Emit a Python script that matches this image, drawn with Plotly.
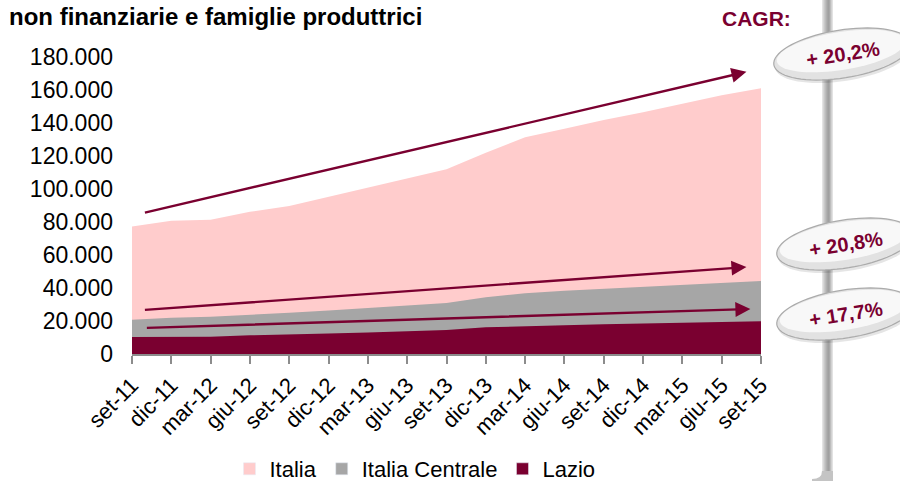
import math
import plotly.graph_objects as go

# Quarterly periods, Sep 2011 - Sep 2015
periods = ["set-11", "dic-11", "mar-12", "giu-12", "set-12", "dic-12", "mar-13",
           "giu-13", "set-13", "dic-13", "mar-14", "giu-14", "set-14", "dic-14",
           "mar-15", "giu-15", "set-15"]

italia = [77200, 80800, 81400, 86200, 89700, 95300, 100800, 106700, 111900,
          122000, 131300, 136500, 141800, 146500, 151500, 156800, 161000]
italia_centrale = [20800, 22000, 22600, 24000, 25000, 26300, 27900, 29500, 30900,
                   34400, 36800, 38400, 39600, 40800, 41800, 42800, 44300]
lazio = [10300, 10500, 10500, 11300, 11700, 12500, 13100, 13900, 14500,
         16200, 17000, 17400, 18000, 18400, 18800, 19200, 19800]

cagr_labels = ["+ 20,2%", "+ 20,8%", "+ 17,7%"]

PINK = "#FFCCCC"
GREY = "#A6A6A6"
MAROON = "#7A0030"
FONT = "Liberation Sans, Arial, sans-serif"

W, H = 900, 481
ML, MR, MT, MB = 132, 139, 57, 127
PW, PH = W - ML - MR, H - MT - MB


def px(x):
    return (x - ML) / PW


def py(y):
    return (H - MB - y) / PH


fig = go.Figure()

series = [("Italia", italia, PINK),
          ("Italia Centrale", italia_centrale, GREY),
          ("Lazio", lazio, MAROON)]

for name, vals, col in series:
    fig.add_trace(go.Scatter(x=periods, y=vals, mode="lines", fill="tozeroy",
                             fillcolor=col, line=dict(width=0, color=col),
                             name=name, showlegend=False, hoverinfo="skip"))
# square legend keys
for name, vals, col in series:
    fig.add_trace(go.Bar(x=[None], y=[None], name=name, marker_color=col,
                         showlegend=True))

shapes = []
# vertical decorative bar on the right
bar_cols = ["#e4e4e4", "#d6d6d6", "#c8c8c8", "#bcbcbc", "#b0b0b0", "#a6a6a6",
            "#a0a0a0", "#a8a8a8", "#bdbdbd", "#d2d2d2", "#e2e2e2"]
for i, c in enumerate(bar_cols):
    shapes.append(dict(type="rect", xref="paper", yref="paper", layer="above",
                       x0=px(822 + i), x1=px(823 + i), y0=py(472), y1=py(0),
                       fillcolor=c, line=dict(width=0)))
shapes.append(dict(type="path", xref="paper", yref="paper", layer="above",
                   path=(f"M{px(822)},{py(471)} Q{px(822)},{py(479)} {px(812)},{py(479)} "
                         f"L{px(812)},{py(481)} L{px(833)},{py(481)} L{px(833)},{py(471)} Z"),
                   fillcolor="#c4c4c4", line=dict(width=0)))


def ellipse_path(cx, cy, a, b, ang, n=72):
    t = math.radians(ang)
    pts = []
    for k in range(n):
        u = 2 * math.pi * k / n
        ex, ey = a * math.cos(u), b * math.sin(u)
        x = cx + ex * math.cos(t) - ey * math.sin(t)
        y = cy + ex * math.sin(t) + ey * math.cos(t)
        pts.append(f"{px(x):.5f},{py(y):.5f}")
    return "M" + " L".join(pts) + " Z"


badges = [(842, 54), (845, 244), (845, 314)]
for (cx, cy), txt in zip(badges, cagr_labels):
    shapes.append(dict(type="path", xref="paper", yref="paper", layer="above",
                       path=ellipse_path(cx + 1, cy + 3, 69, 24, -9),
                       fillcolor="rgba(0,0,0,0.10)", line=dict(width=0)))
    shapes.append(dict(type="path", xref="paper", yref="paper", layer="above",
                       path=ellipse_path(cx, cy, 69, 24, -9),
                       fillcolor="#E2E2E2", line=dict(color="#ABABAB", width=1.2)))
    shapes.append(dict(type="path", xref="paper", yref="paper", layer="above",
                       path=ellipse_path(cx - 1, cy - 3, 65, 19, -9),
                       fillcolor="#F8F8F8", line=dict(width=0)))

annotations = [
    dict(text="<b>non finanziarie e famiglie produttrici</b>", xref="paper", yref="paper",
         x=px(7), y=py(17), xanchor="left", yanchor="middle", showarrow=False,
         font=dict(family=FONT, size=24, color="#000000")),
    dict(text="<b>CAGR:</b>", xref="paper", yref="paper", x=px(756), y=py(19),
         xanchor="center", yanchor="middle", showarrow=False,
         font=dict(family=FONT, size=21, color=MAROON)),
]
for (cx, cy), txt in zip(badges, cagr_labels):
    annotations.append(dict(text=f"<b>{txt}</b>", xref="paper", yref="paper",
                            x=px(cx + 1), y=py(cy), xanchor="center", yanchor="middle",
                            showarrow=False, textangle=-9,
                            font=dict(family=FONT, size=20, color=MAROON)))

# trend arrows (tail -> head, in category index / value units)
trend_arrows = [((0.29, 85500), (15.63, 171000)),
                ((0.29, 26700), (15.63, 52700)),
                ((0.34, 15800), (15.73, 27300))]
for (tx, ty), (hx, hy) in trend_arrows:
    annotations.append(dict(x=hx, y=hy, ax=tx, ay=ty, xref="x", yref="y",
                            axref="x", ayref="y", text="", showarrow=True,
                            arrowhead=2, arrowsize=1.25, arrowwidth=2.4,
                            arrowcolor=MAROON))

fig.update_layout(
    width=W, height=H,
    margin=dict(l=ML, r=MR, t=MT, b=MB, pad=0, autoexpand=False),
    paper_bgcolor="white", plot_bgcolor="white",
    separators=",.",
    font=dict(family=FONT, size=21, color="#000000"),
    showlegend=True,
    legend=dict(orientation="h", x=px(415), y=py(469), xanchor="center",
                yanchor="middle", font=dict(family=FONT, size=22, color="#000000"),
                itemwidth=30, traceorder="normal", bgcolor="rgba(0,0,0,0)"),
    shapes=shapes,
    annotations=annotations,
    xaxis=dict(type="category", categoryorder="array", categoryarray=periods,
               range=[0, 16], showgrid=False, zeroline=False, automargin=False,
               showline=True, linecolor="#8c8c8c", linewidth=1.5,
               ticks="outside", ticklen=8, tickcolor="#8c8c8c", tickwidth=1.5,
               tickangle=-45, tickfont=dict(family=FONT, size=22, color="#000000")),
    yaxis=dict(range=[0, 180000], tickvals=list(range(0, 180001, 20000)),
               tickformat=",d", showgrid=False, zeroline=False, showline=False,
               ticks="", ticklabelstandoff=18, automargin=False,
               tickfont=dict(family=FONT, size=23, color="#000000")),
)

fig.write_html("out.html")
